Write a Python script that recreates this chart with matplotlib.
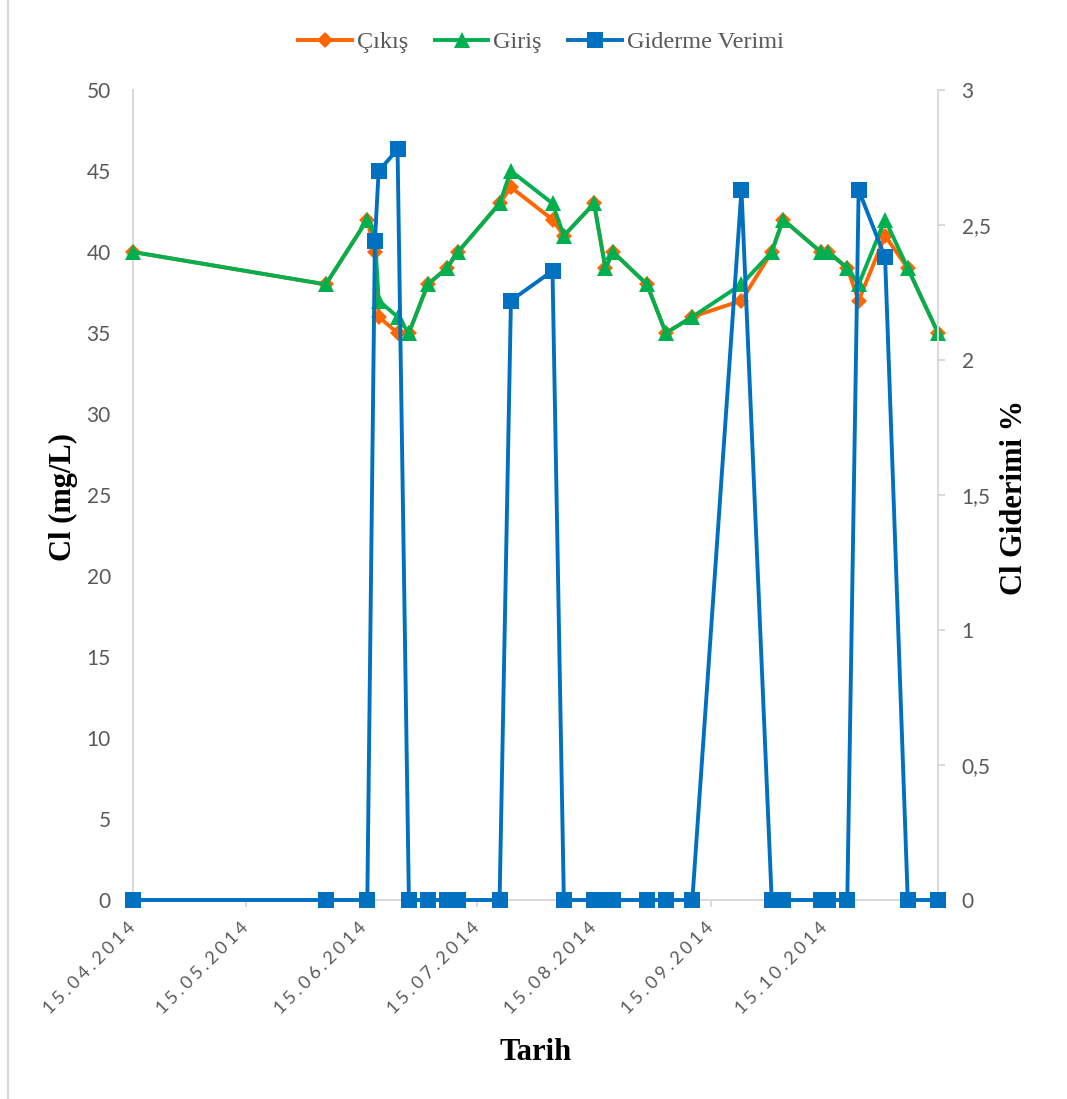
import datetime as dt
import matplotlib
matplotlib.use("Agg")
import matplotlib.pyplot as plt
from matplotlib.lines import Line2D

# Sampling dates and measured chloride values
sample_dates = [
    "15.04.2014", "05.06.2014", "16.06.2014", "18.06.2014", "19.06.2014",
    "24.06.2014", "27.06.2014", "02.07.2014", "07.07.2014", "10.07.2014",
    "21.07.2014", "24.07.2014", "04.08.2014", "07.08.2014", "15.08.2014",
    "18.08.2014", "20.08.2014", "29.08.2014", "03.09.2014", "10.09.2014",
    "23.09.2014", "01.10.2014", "04.10.2014", "14.10.2014", "16.10.2014",
    "21.10.2014", "24.10.2014", "31.10.2014", "06.11.2014", "14.11.2014",
]
cikis = [40, 38, 42, 40, 36, 35, 35, 38, 39, 40, 43, 44, 42, 41, 43,
         39, 40, 38, 35, 36, 37, 40, 42, 40, 40, 39, 37, 41, 39, 35]
giris = [40, 38, 42, 41, 37, 36, 35, 38, 39, 40, 43, 45, 43, 41, 43,
         39, 40, 38, 35, 36, 38, 40, 42, 40, 40, 39, 38, 42, 39, 35]
giderme_verimi = [0, 0, 0, 2.44, 2.70, 2.78, 0, 0, 0, 0, 0, 2.22, 2.33, 0, 0,
                  0, 0, 0, 0, 0, 2.63, 0, 0, 0, 0, 0, 2.63, 2.38, 0, 0]

month_ticks = ["15.04.2014", "15.05.2014", "15.06.2014", "15.07.2014",
               "15.08.2014", "15.09.2014", "15.10.2014"]
left_ticks = [0, 5, 10, 15, 20, 25, 30, 35, 40, 45, 50]
right_ticks = [0, 0.5, 1, 1.5, 2, 2.5, 3]
right_tick_labels = ["0", "0,5", "1", "1,5", "2", "2,5", "3"]


def parse(s):
    return dt.datetime.strptime(s, "%d.%m.%Y")


dates = [parse(s) for s in sample_dates]
tick_dates = [parse(s) for s in month_ticks]

ORANGE = "#FF6600"
GREEN = "#00B050"
BLUE = "#0070C0"
AXIS_GREY = "#D9D9D9"
TEXT_GREY = "#595959"
W, H = 1067, 1099

fig = plt.figure(figsize=(W / 100, H / 100), dpi=100)
ax = fig.add_axes([133 / W, 1 - 900 / H, (938 - 133) / W, (900 - 90) / H])
ax2 = ax.twinx()

l1, = ax.plot(dates, cikis, color=ORANGE, lw=2.8, marker="D", ms=8.5,
              mew=0, label="Çıkış", zorder=3, clip_on=False)
l2, = ax.plot(dates, giris, color=GREEN, lw=2.8, marker="^", ms=11.5,
              mew=0, label="Giriş", zorder=4, clip_on=False)
l3, = ax2.plot(dates, giderme_verimi, color=BLUE, lw=2.8, marker="s", ms=12,
               mew=0, label="Giderme Verimi", zorder=5, clip_on=False)

ax.set_xlim(parse("15.04.2014"), parse("14.11.2014"))
ax.set_ylim(0, 50)
ax2.set_ylim(0, 3)

for a in (ax, ax2):
    a.spines["top"].set_visible(False)
    for side in ("left", "right", "bottom"):
        a.spines[side].set_color(AXIS_GREY)
        a.spines[side].set_linewidth(1.4)
ax.spines["right"].set_visible(False)
ax2.spines["left"].set_visible(False)
ax2.spines["bottom"].set_visible(False)

ax.set_yticks(left_ticks)
ax.set_yticklabels([str(v) for v in left_ticks], family=["Lato", "DejaVu Sans"])
ax.tick_params(axis="y", length=0, pad=16, labelsize=15, labelcolor=TEXT_GREY)

ax2.set_yticks(right_ticks)
ax2.set_yticklabels(right_tick_labels, family=["Lato", "DejaVu Sans"])
ax2.tick_params(axis="y", length=5, width=1.4, color=AXIS_GREY, pad=12,
                labelsize=15, labelcolor=TEXT_GREY)

ax.set_xticks(tick_dates)
ax.set_xticklabels(["\u2009\u200a".join(s) for s in month_ticks], rotation=45,
                   ha="right", va="center", rotation_mode="anchor",
                   family=["Lato", "DejaVu Sans"])
ax.tick_params(axis="x", length=5, width=1.4, color=AXIS_GREY, pad=13,
               labelsize=13, labelcolor=TEXT_GREY)

serif_bold = dict(family="Liberation Serif", weight="bold", size=22, color="black")
fig.text(63 / W, 1 - 497 / H, "Cl (mg/L)", rotation=90, ha="center", va="center", **serif_bold)
fig.text(1015 / W, 1 - 497 / H, "Cl Giderimi %", rotation=90, ha="center", va="center", **serif_bold)
fig.text(536 / W, 1 - 1052 / H, "Tarih", ha="center", va="center", **serif_bold)

fig.legend(handles=[l1, l2, l3], loc="center", bbox_to_anchor=(541 / W, 1 - 42 / H),
           ncol=3, frameon=False, handlelength=2.2, handletextpad=0.2,
           columnspacing=1.1, prop=dict(family="Liberation Serif", size=17.5),
           labelcolor=TEXT_GREY)

fig.add_artist(Line2D([8 / W, 8 / W], [0, 1], color=AXIS_GREY, lw=1.5,
                      transform=fig.transFigure))

fig.savefig("out.png", dpi=100, facecolor="white")
